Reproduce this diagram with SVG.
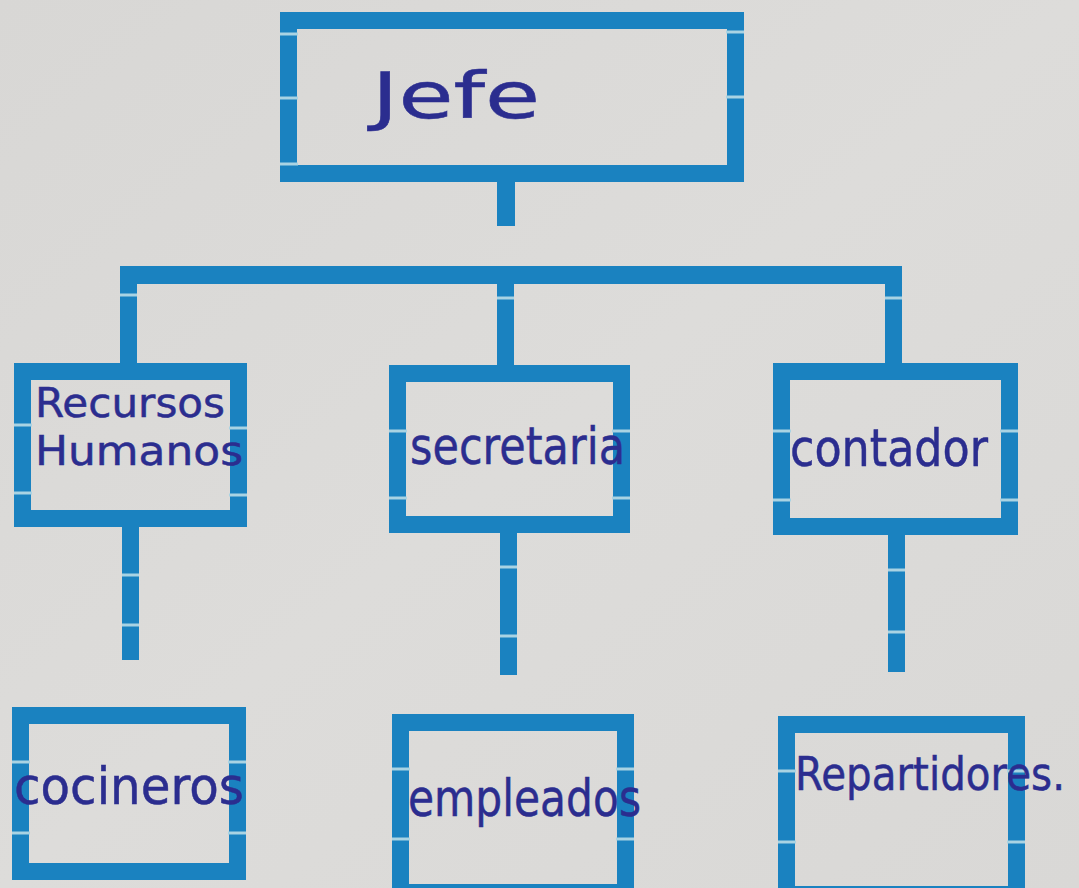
<svg xmlns="http://www.w3.org/2000/svg" width="1079" height="888" viewBox="0 0 1079 888">
  <defs>
    <linearGradient id="paper" x1="0" y1="0" x2="1" y2="1">
      <stop offset="0" stop-color="#d8d7d5"/>
      <stop offset="0.5" stop-color="#dddcda"/>
      <stop offset="1" stop-color="#d9d8d6"/>
    </linearGradient>
    <style>
      .box { fill: none; stroke: #1a82c0; stroke-width: 17; stroke-linejoin: miter; }
      .bar { fill: #1a82c0; }
      .join { stroke: #a9d3e3; stroke-width: 3; }
      .hand { font-family: "DejaVu Sans", "Liberation Sans", sans-serif; fill: #2b2d8f; stroke: #2b2d8f; stroke-width: 0.5; }
    </style>
  </defs>
  <rect x="0" y="0" width="1079" height="888" fill="url(#paper)"/>

  <g id="connectors">
    <rect class="bar" x="497" y="180" width="18" height="46"/>
    <rect class="bar" x="120" y="266" width="782" height="18"/>
    <rect class="bar" x="120" y="266" width="17" height="99"/>
    <rect class="bar" x="497" y="266" width="17" height="101"/>
    <rect class="bar" x="885" y="266" width="17" height="99"/>
    <rect class="bar" x="122" y="525" width="17" height="135"/>
    <rect class="bar" x="500" y="531" width="17" height="144"/>
    <rect class="bar" x="888" y="533" width="17" height="139"/>
    <line class="join" x1="120" y1="295" x2="137" y2="295"/>
    <line class="join" x1="497" y1="298" x2="514" y2="298"/>
    <line class="join" x1="885" y1="298" x2="902" y2="298"/>
    <line class="join" x1="122" y1="575" x2="139" y2="575"/>
    <line class="join" x1="122" y1="625" x2="139" y2="625"/>
    <line class="join" x1="500" y1="567" x2="517" y2="567"/>
    <line class="join" x1="500" y1="636" x2="517" y2="636"/>
    <line class="join" x1="888" y1="570" x2="905" y2="570"/>
    <line class="join" x1="888" y1="632" x2="905" y2="632"/>
  </g>

  <g id="jefe">
    <rect class="box" x="288.5" y="20.5" width="447" height="153"/>
    <line class="join" x1="280" y1="34" x2="298" y2="34"/>
    <line class="join" x1="280" y1="98" x2="298" y2="98"/>
    <line class="join" x1="726" y1="32" x2="744" y2="32"/>
    <line class="join" x1="726" y1="97" x2="744" y2="97"/>
    <line class="join" x1="280" y1="164" x2="298" y2="164"/>
    <text class="hand" x="372" y="118" font-size="64" textLength="168" lengthAdjust="spacingAndGlyphs">Jefe</text>
  </g>

  <g id="recursos-humanos">
    <rect class="box" x="22.5" y="371.5" width="216" height="147"/>
    <line class="join" x1="14" y1="425" x2="32" y2="425"/>
    <line class="join" x1="14" y1="493" x2="32" y2="493"/>
    <line class="join" x1="229" y1="428" x2="247" y2="428"/>
    <line class="join" x1="229" y1="495" x2="247" y2="495"/>
    <text class="hand" x="35" y="417" font-size="41" textLength="190" lengthAdjust="spacingAndGlyphs">Recursos</text>
    <text class="hand" x="35" y="465" font-size="41" textLength="208" lengthAdjust="spacingAndGlyphs">Humanos</text>
  </g>

  <g id="secretaria">
    <rect class="box" x="397.5" y="373.5" width="224" height="151"/>
    <line class="join" x1="389" y1="431" x2="407" y2="431"/>
    <line class="join" x1="389" y1="498" x2="407" y2="498"/>
    <line class="join" x1="612" y1="431" x2="630" y2="431"/>
    <line class="join" x1="612" y1="498" x2="630" y2="498"/>
    <text class="hand" x="410" y="464" font-size="52" textLength="215" lengthAdjust="spacingAndGlyphs">secretaria</text>
  </g>

  <g id="contador">
    <rect class="box" x="781.5" y="371.5" width="228" height="155"/>
    <line class="join" x1="773" y1="431" x2="791" y2="431"/>
    <line class="join" x1="773" y1="500" x2="791" y2="500"/>
    <line class="join" x1="1000" y1="431" x2="1018" y2="431"/>
    <line class="join" x1="1000" y1="500" x2="1018" y2="500"/>
    <text class="hand" x="790" y="466" font-size="52" textLength="198" lengthAdjust="spacingAndGlyphs">contador</text>
  </g>

  <g id="cocineros">
    <rect class="box" x="20.5" y="715.5" width="217" height="156"/>
    <line class="join" x1="12" y1="762" x2="30" y2="762"/>
    <line class="join" x1="12" y1="833" x2="30" y2="833"/>
    <line class="join" x1="228" y1="762" x2="246" y2="762"/>
    <line class="join" x1="228" y1="833" x2="246" y2="833"/>
    <text class="hand" x="14" y="804" font-size="52" textLength="230" lengthAdjust="spacingAndGlyphs">cocineros</text>
  </g>

  <g id="empleados">
    <rect class="box" x="400.5" y="722.5" width="225" height="170"/>
    <line class="join" x1="392" y1="769" x2="410" y2="769"/>
    <line class="join" x1="392" y1="839" x2="410" y2="839"/>
    <line class="join" x1="616" y1="769" x2="634" y2="769"/>
    <line class="join" x1="616" y1="839" x2="634" y2="839"/>
    <text class="hand" x="408" y="816" font-size="52" textLength="233" lengthAdjust="spacingAndGlyphs">empleados</text>
  </g>

  <g id="repartidores">
    <rect class="box" x="786.5" y="724.5" width="230" height="170"/>
    <line class="join" x1="778" y1="771" x2="796" y2="771"/>
    <line class="join" x1="778" y1="842" x2="796" y2="842"/>
    <line class="join" x1="1007" y1="771" x2="1025" y2="771"/>
    <line class="join" x1="1007" y1="842" x2="1025" y2="842"/>
    <text class="hand" x="795" y="790" font-size="46" textLength="270" lengthAdjust="spacingAndGlyphs">Repartidores.</text>
  </g>
</svg>
